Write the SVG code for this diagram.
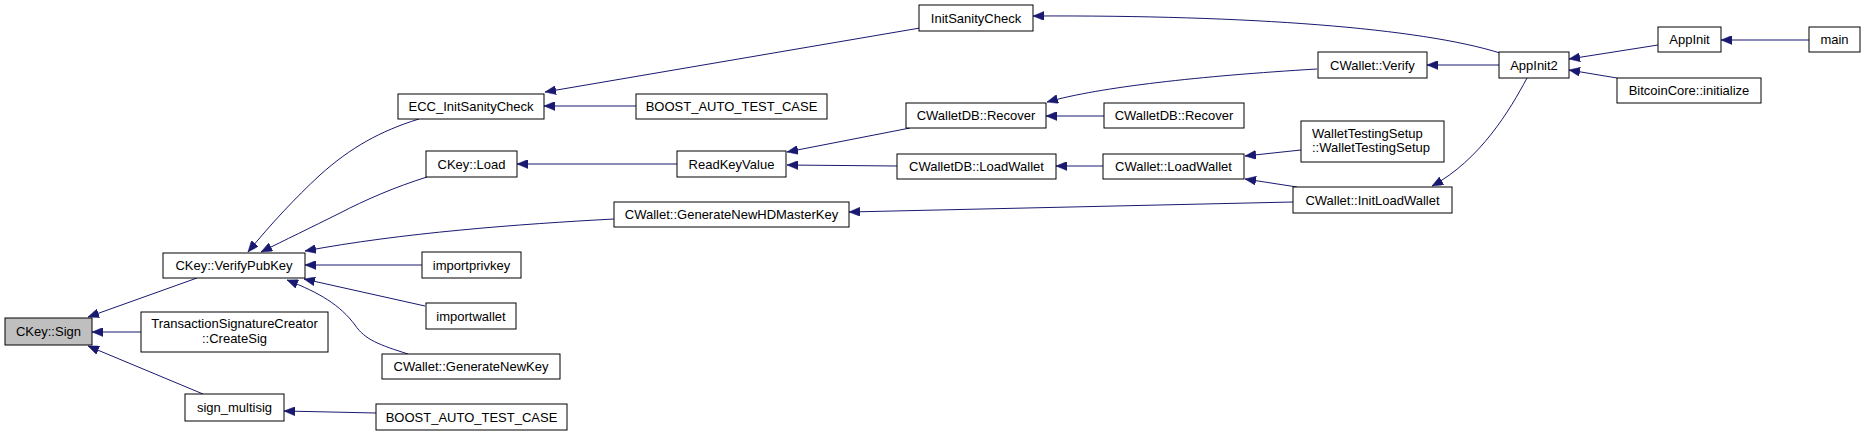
<svg xmlns="http://www.w3.org/2000/svg" width="1865" height="436" viewBox="0 0 1865 436">
<style>
.n rect{fill:#fff;stroke:#000;stroke-width:1}
.n text{font-family:"Liberation Sans",Arial,sans-serif;font-size:13px;fill:#000;text-anchor:middle}
#edges path{fill:none;stroke:#191970;stroke-width:1;marker-end:url(#ah)}
</style>
<defs>
<marker id="ah" markerUnits="userSpaceOnUse" markerWidth="11" markerHeight="9" refX="11" refY="4.5" orient="auto">
<path d="M0,0 L11,4.5 L0,9 z" fill="#191970" stroke="#191970" stroke-width="0.5"/>
</marker>
</defs>
<rect width="1865" height="436" fill="#fff"/>
<g id="edges">
<path d="M197,278 L88,317"/>
<path d="M141,332 L92,332"/>
<path d="M203,394 L88,346"/>
<path d="M419,119 C380,131 350,148 320,175 C295,198 270,225 248,252"/>
<path d="M427,177 C395,187 365,200 340,213 C310,228 285,240 261,252"/>
<path d="M614,219 C520,224 400,233 305,251"/>
<path d="M422,265 L305,265"/>
<path d="M425,306 L304,279"/>
<path d="M408,354 C380,345 365,340 355,325 C340,305 320,293 287,280"/>
<path d="M376,413 L284,411"/>
<path d="M920,28 L545,92"/>
<path d="M636,106 L544,106"/>
<path d="M677,164 L517,164"/>
<path d="M910,128 L787,152"/>
<path d="M897,166 L787,165"/>
<path d="M1293,202 L849,212"/>
<path d="M1317,69 C1200,76 1100,87 1047,102"/>
<path d="M1104,116 L1046,116"/>
<path d="M1103,166 L1056,166"/>
<path d="M1301,150 L1245,156"/>
<path d="M1297,187 L1245,179"/>
<path d="M1500,53 C1420,28 1250,15 1033,16"/>
<path d="M1499,65 L1427,65"/>
<path d="M1527,78 C1510,110 1480,160 1432,186"/>
<path d="M1658,45 L1569,59"/>
<path d="M1617,78 L1569,70"/>
<path d="M1809,40 L1721,40"/>
</g>
<g id="n_sign" class="n"><rect x="5" y="318" width="87" height="27" style="fill:#bfbfbf"/><text x="48.5" y="336">CKey::Sign</text></g>
<g id="n_verifypubkey" class="n"><rect x="163" y="253" width="142" height="25"/><text x="234" y="270">CKey::VerifyPubKey</text></g>
<g id="n_createsig" class="n"><rect x="141" y="312" width="187" height="40"/><text x="234.5" y="328">TransactionSignatureCreator</text><text x="234.5" y="343">::CreateSig</text></g>
<g id="n_signmultisig" class="n"><rect x="185" y="394" width="99" height="27"/><text x="234.5" y="412">sign_multisig</text></g>
<g id="n_eccinit" class="n"><rect x="398" y="94" width="146" height="25"/><text x="471" y="111">ECC_InitSanityCheck</text></g>
<g id="n_load" class="n"><rect x="426" y="151" width="91" height="26"/><text x="471.5" y="169">CKey::Load</text></g>
<g id="n_importprivkey" class="n"><rect x="422" y="252" width="99" height="26"/><text x="471.5" y="270">importprivkey</text></g>
<g id="n_importwallet" class="n"><rect x="426" y="303" width="90" height="26"/><text x="471" y="321">importwallet</text></g>
<g id="n_gennewkey" class="n"><rect x="382" y="354" width="178" height="25"/><text x="471" y="371">CWallet::GenerateNewKey</text></g>
<g id="n_boost2" class="n"><rect x="376" y="404" width="191" height="26"/><text x="471.5" y="422">BOOST_AUTO_TEST_CASE</text></g>
<g id="n_initsanity" class="n"><rect x="919" y="5" width="114" height="26"/><text x="976" y="23">InitSanityCheck</text></g>
<g id="n_boost1" class="n"><rect x="636" y="94" width="191" height="25"/><text x="731.5" y="111">BOOST_AUTO_TEST_CASE</text></g>
<g id="n_readkeyvalue" class="n"><rect x="677" y="151" width="109" height="26"/><text x="731.5" y="169">ReadKeyValue</text></g>
<g id="n_genhdmaster" class="n"><rect x="614" y="202" width="235" height="25"/><text x="731.5" y="219">CWallet::GenerateNewHDMasterKey</text></g>
<g id="n_recover1" class="n"><rect x="906" y="103" width="140" height="25"/><text x="976" y="120">CWalletDB::Recover</text></g>
<g id="n_dbloadwallet" class="n"><rect x="897" y="154" width="159" height="25"/><text x="976.5" y="171">CWalletDB::LoadWallet</text></g>
<g id="n_verify" class="n"><rect x="1318" y="52" width="109" height="26"/><text x="1372.5" y="70">CWallet::Verify</text></g>
<g id="n_recover2" class="n"><rect x="1104" y="103" width="140" height="25"/><text x="1174" y="120">CWalletDB::Recover</text></g>
<g id="n_loadwallet" class="n"><rect x="1103" y="154" width="141" height="25"/><text x="1173.5" y="171">CWallet::LoadWallet</text></g>
<g id="n_wts" class="n"><rect x="1301" y="121" width="143" height="41"/><text x="1312" y="138" style="text-anchor:start">WalletTestingSetup</text><text x="1312" y="152" style="text-anchor:start">::WalletTestingSetup</text></g>
<g id="n_initloadwallet" class="n"><rect x="1293" y="187" width="159" height="26"/><text x="1372.5" y="205">CWallet::InitLoadWallet</text></g>
<g id="n_appinit2" class="n"><rect x="1499" y="52" width="70" height="26"/><text x="1534" y="70">AppInit2</text></g>
<g id="n_appinit" class="n"><rect x="1658" y="27" width="63" height="25"/><text x="1689.5" y="44">AppInit</text></g>
<g id="n_main" class="n"><rect x="1809" y="27" width="51" height="25"/><text x="1834.5" y="44">main</text></g>
<g id="n_bitcoincore" class="n"><rect x="1617" y="78" width="144" height="25"/><text x="1689" y="95">BitcoinCore::initialize</text></g>
</svg>
